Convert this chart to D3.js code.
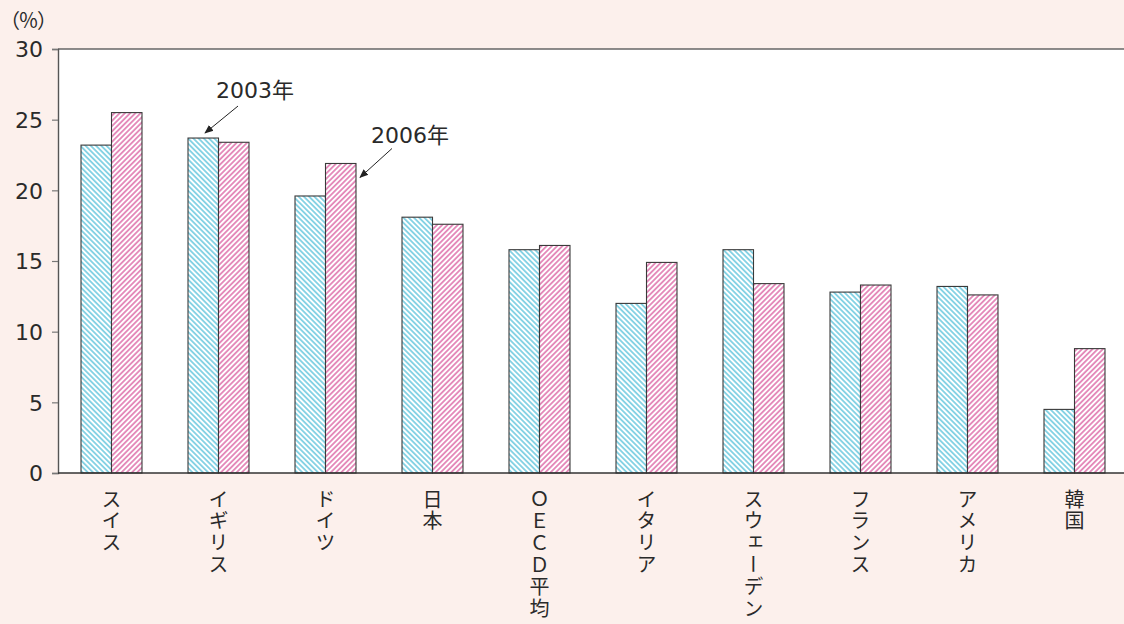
<!DOCTYPE html>
<html>
<head>
<meta charset="utf-8">
<script src="https://cdn.jsdelivr.net/npm/d3@7"></script>
<style>
  html, body { margin: 0; padding: 0; background: #fcf0ec; }
  svg { display: block; }
</style>
</head>
<body>
<svg id="chart" width="1124" height="624"></svg>
<script>
// ---- data ----
const categories = ["スイス", "イギリス", "ドイツ", "日本", "ＯＥＣＤ平均", "イタリア", "スウェーデン", "フランス", "アメリカ", "韓国"];
const series = ["2003年", "2006年"];
const values2003 = [23.2, 23.7, 19.6, 18.1, 15.8, 12.0, 15.8, 12.8, 13.2, 4.5];
const values2006 = [25.5, 23.4, 21.9, 17.6, 16.1, 14.9, 13.4, 13.3, 12.6, 8.8];
const yTicks = [0, 5, 10, 15, 20, 25, 30];
const yUnit = "（％）";

(function () {
// ---- layout ----
const W = 1124, H = 624;
const mLeft = 58, mTop = 49, mBottom = 473, mRight = 1128;
const svg = d3.select("#chart");

const colors = { "2003年": "#5ec4dc", "2006年": "#dc64a4" };

const defs = svg.append("defs");
function hatch(id, color, angle) {
  const p = defs.append("pattern")
    .attr("id", id)
    .attr("patternUnits", "userSpaceOnUse")
    .attr("width", 3.7).attr("height", 10)
    .attr("patternTransform", `rotate(${angle})`);
  p.append("rect").attr("width", 3.7).attr("height", 10).attr("fill", "#fff");
  p.append("line").attr("x1", 1.85).attr("y1", 0).attr("x2", 1.85).attr("y2", 10)
    .attr("stroke", color).attr("stroke-width", 1.4);
}
hatch("h2003", colors["2003年"], -45);
hatch("h2006", colors["2006年"], 45);

const arrowM = defs.append("marker")
  .attr("id", "arrow").attr("viewBox", "0 0 10 10")
  .attr("refX", 9).attr("refY", 5)
  .attr("markerWidth", 9).attr("markerHeight", 9)
  .attr("markerUnits", "userSpaceOnUse")
  .attr("orient", "auto");
arrowM.append("path").attr("d", "M0,1 L10,5 L0,9 Z").attr("fill", "#222");

// scales
const x0 = d3.scaleBand().domain(categories).range([mLeft, mRight])
  .paddingInner(0.43).paddingOuter(0.215);
const x1 = d3.scaleBand().domain(series).range([0, x0.bandwidth()]);
const y = d3.scaleLinear().domain([0, 30]).range([mBottom, mTop]);

// plot background
svg.append("rect").attr("x", mLeft).attr("y", mTop)
  .attr("width", W - mLeft).attr("height", mBottom - mTop).attr("fill", "#fff");

// bars
const rows = categories.map((c, i) => ({ c, v: [values2003[i], values2006[i]] }));
const g = svg.append("g");
rows.forEach(r => {
  series.forEach((s, si) => {
    g.append("rect")
      .attr("x", x0(r.c) + x1(s))
      .attr("y", y(r.v[si]))
      .attr("width", x1.bandwidth())
      .attr("height", y(0) - y(r.v[si]))
      .attr("fill", `url(#h${s.replace("年", "")})`)
      .attr("stroke", "#3a3a3a")
      .attr("stroke-width", 1.1);
  });
});

// frame
svg.append("line").attr("x1", mLeft).attr("x2", W).attr("y1", mTop).attr("y2", mTop)
  .attr("stroke", "#666").attr("stroke-width", 1.6);

// y axis
const yAxis = d3.axisLeft(y).tickValues(yTicks).tickSize(6).tickFormat(d3.format("d"));
const ya = svg.append("g").attr("transform", `translate(${mLeft},0)`).call(yAxis);
ya.select(".domain").attr("stroke", "#555").attr("stroke-width", 1.4);
ya.selectAll(".tick line").attr("stroke", "#777").attr("stroke-width", 1.2);
ya.selectAll(".tick text")
  .attr("x", -15)
  .attr("dy", "0.36em")
  .attr("font-family", "'DejaVu Sans', sans-serif")
  .attr("font-size", 22).attr("fill", "#2a2a2a");

// x axis baseline
svg.append("line").attr("x1", mLeft).attr("x2", W).attr("y1", mBottom).attr("y2", mBottom)
  .attr("stroke", "#333").attr("stroke-width", 1.4);

// x labels (vertical)
categories.forEach(c => {
  svg.append("text")
    .attr("x", x0(c) + x0.bandwidth() / 2)
    .attr("y", 489)
    .attr("writing-mode", "vertical-rl")
    .style("text-orientation", "upright")
    .style("letter-spacing", "1.8px")
    .attr("font-family", "'Noto Sans CJK JP', sans-serif")
    .attr("font-size", 20)
    .attr("fill", "#2a2a2a")
    .text(c);
});

// unit label
svg.append("text").attr("x", 0).attr("y", 28)
  .attr("font-family", "'Noto Sans CJK JP', sans-serif")
  .attr("font-size", 20).attr("fill", "#2a2a2a")
  .style("letter-spacing", "-1.5px")
  .text(yUnit);

// annotations
function annotate(label, tx, ty, sx, sy, ex, ey) {
  svg.append("text").attr("x", tx).attr("y", ty)
    .attr("font-family", "'DejaVu Sans', 'Noto Sans CJK JP', sans-serif")
    .attr("font-size", 22).attr("fill", "#2a2a2a").text(label);
  svg.append("line").attr("x1", sx).attr("y1", sy).attr("x2", ex).attr("y2", ey)
    .attr("stroke", "#222").attr("stroke-width", 1).attr("marker-end", "url(#arrow)");
}
{
  const bx = x0("イギリス") + x1("2003年");
  const by = y(values2003[1]);
  annotate(series[0], bx + 28, by - 40, bx + 50, by - 32, bx + 17, by - 5);
}
{
  const bx = x0("ドイツ") + x1("2006年") + x1.bandwidth();
  const by = y(values2006[2]);
  annotate(series[1], bx + 15, by - 20, bx + 36, by - 15, bx + 4, by + 14);
}
})();
</script>
</body>
</html>
